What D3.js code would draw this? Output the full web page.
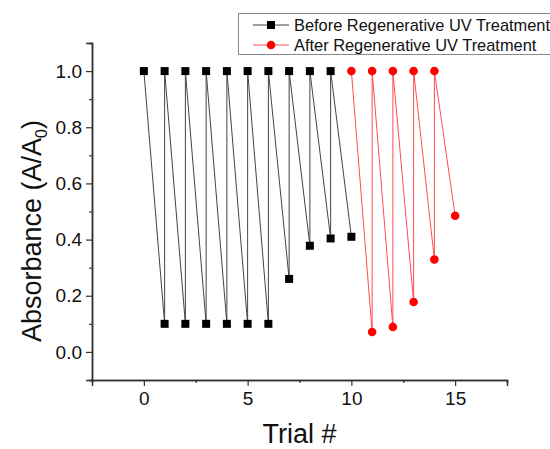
<!DOCTYPE html>
<html>
<head>
<meta charset="utf-8">
<script src="https://cdn.jsdelivr.net/npm/d3@7"></script>
<style>
body { margin: 0; background: #fff; }
svg { font-family: "Liberation Sans", Arial, sans-serif; }
</style>
</head>
<body>
<svg id="chart" width="550" height="449"></svg>
<script>
// trial number and absorbance (A/A0)
var beforeTrial = [0, 1, 1, 2, 2, 3, 3, 4, 4, 5, 5, 6, 6, 7, 7, 8, 8, 9, 9, 10];
var beforeAbs   = [1.0, 0.10, 1.0, 0.10, 1.0, 0.10, 1.0, 0.10, 1.0, 0.10, 1.0, 0.10, 1.0, 0.26, 1.0, 0.378, 1.0, 0.404, 1.0, 0.41];
var afterTrial  = [10, 11, 11, 12, 12, 13, 13, 14, 14, 15];
var afterAbs    = [1.0, 0.071, 1.0, 0.089, 1.0, 0.178, 1.0, 0.329, 1.0, 0.485];
var xTicks = [0, 5, 10, 15];
var yTicks = [0.0, 0.2, 0.4, 0.6, 0.8, 1.0];
var seriesNames = ["Before Regenerative UV Treatment", "After Regenerative UV Treatment"];

var svg = d3.select("#chart");
var margin = {left: 92, right: 43, top: 43, bottom: 69};
var width = 550 - margin.left - margin.right,
    height = 449 - margin.top - margin.bottom;

var x = d3.scaleLinear().domain([-2.5, 17.5]).range([0, width]);
var y = d3.scaleLinear().domain([-0.1, 1.1]).range([height, 0]);

var g = svg.append("g").attr("transform", "translate(" + margin.left + "," + margin.top + ")");

// axes: major ticks with labels, minor ticks without
var xMinor = d3.range(-2.5, 17.6, 2.5).filter(function(v) { return xTicks.indexOf(v) < 0; });
var yMinor = d3.range(-1, 12, 2).map(function(v) { return v / 10; });

g.append("g")
    .attr("transform", "translate(0," + height + ")")
    .call(d3.axisBottom(x).tickValues(xMinor).tickSize(3).tickFormat(""));
g.append("g")
    .attr("transform", "translate(0," + height + ")")
    .call(d3.axisBottom(x).tickValues(xTicks).tickSize(6).tickPadding(6).tickFormat(d3.format("d")));
g.append("g")
    .call(d3.axisLeft(y).tickValues(yMinor).tickSize(3).tickFormat(""));
g.append("g")
    .call(d3.axisLeft(y).tickValues(yTicks).tickSize(6).tickPadding(4).tickFormat(d3.format(".1f")));

g.selectAll(".domain").attr("stroke", "#333").attr("stroke-width", 1.5);
g.selectAll(".tick line").attr("stroke", "#333").attr("stroke-width", 1.2);
g.selectAll(".tick text").attr("font-size", 19).attr("fill", "#111")
    .attr("font-family", "Liberation Sans, Arial, sans-serif");

// lines
var line = d3.line().x(function(d) { return x(d[0]); }).y(function(d) { return y(d[1]); });
var before = beforeTrial.map(function(t, i) { return [t, beforeAbs[i]]; });
var after = afterTrial.map(function(t, i) { return [t, afterAbs[i]]; });

g.append("path").datum(before).attr("d", line)
    .attr("fill", "none").attr("stroke", "#444").attr("stroke-width", 1);
g.append("path").datum(after).attr("d", line)
    .attr("fill", "none").attr("stroke", "#ff4d4d").attr("stroke-width", 1);

g.selectAll(".sq").data(before).enter().append("rect")
    .attr("class", "sq")
    .attr("x", function(d) { return x(d[0]) - 4; })
    .attr("y", function(d) { return y(d[1]) - 4; })
    .attr("width", 8).attr("height", 8)
    .attr("fill", "#000");

g.selectAll(".dot").data(after).enter().append("circle")
    .attr("class", "dot")
    .attr("cx", function(d) { return x(d[0]); })
    .attr("cy", function(d) { return y(d[1]); })
    .attr("r", 4.3)
    .attr("fill", "#f00");

// axis titles
svg.append("text")
    .attr("x", margin.left + x(7.5))
    .attr("y", 443)
    .attr("text-anchor", "middle")
    .attr("font-size", 27)
    .attr("fill", "#111")
    .text("Trial #");

var yt = svg.append("text")
    .attr("transform", "translate(41,231) rotate(-90)")
    .attr("text-anchor", "middle")
    .attr("font-size", 27)
    .attr("fill", "#111");
yt.append("tspan").text("Absorbance (A/A");
yt.append("tspan").attr("font-size", 16).attr("dy", 6).text("0");
yt.append("tspan").attr("dy", -6).text(")");

// legend
var lg = svg.append("g");
lg.append("rect")
    .attr("x", 238.5).attr("y", 13.5)
    .attr("width", 320).attr("height", 41)
    .attr("fill", "#fff").attr("stroke", "#888").attr("stroke-width", 1);

var rows = lg.selectAll(".row").data(seriesNames).enter().append("g")
    .attr("class", "row")
    .attr("transform", function(d, i) { return "translate(0," + (25 + i * 20) + ")"; });
rows.append("line")
    .attr("x1", 253).attr("x2", 289).attr("y1", 0).attr("y2", 0)
    .attr("stroke", function(d, i) { return i === 0 ? "#444" : "#ff4d4d"; })
    .attr("stroke-width", 1);
rows.each(function(d, i) {
    var r = d3.select(this);
    if (i === 0) {
        r.append("rect").attr("x", 267).attr("y", -4).attr("width", 8).attr("height", 8).attr("fill", "#000");
    } else {
        r.append("circle").attr("cx", 271).attr("cy", 0).attr("r", 4.3).attr("fill", "#f00");
    }
});
rows.append("text")
    .attr("x", 294).attr("y", 6)
    .attr("font-size", 16.4)
    .attr("fill", "#111")
    .text(function(d) { return d; });
</script>
</body>
</html>
